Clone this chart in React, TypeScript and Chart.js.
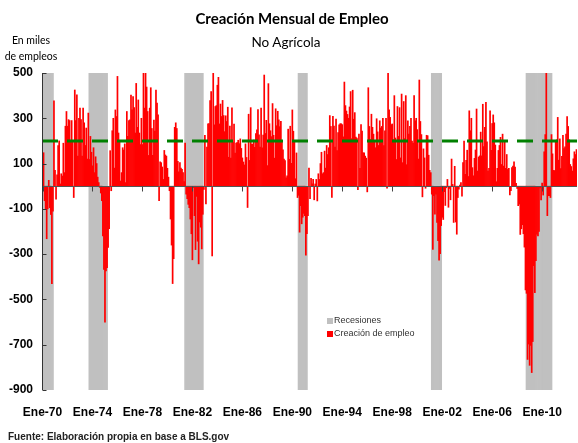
import React, { useEffect, useRef } from "react";
import { Chart, registerables } from "chart.js";
Chart.register(...registerables);

// ---- Data (thousands of jobs, monthly change, non-farm payrolls) ----
const MONTHS = ["Ene", "Feb", "Mar", "Abr", "May", "Jun", "Jul", "Ago", "Sep", "Oct", "Nov", "Dic"];
const FIRST_YEAR = 1970;

const y1970 = [125, 148, -64, -100, -232, -100, 26, -95, -125, -430, -110, 377];
const y1971 = [70, -57, 50, 180, 200, 10, 55, 45, 190, 60, 265, 330];
const y1972 = [265, 294, 290, 200, 290, 200, -50, 425, 290, 404, 133, 300];
const y1973 = [345, 294, 133, 345, 280, 180, 257, 120, 323, 118, 220, 150];
const y1974 = [90, 170, 60, 130, 100, 40, 16, -5, -30, -64, -220, -367];
const y1975 = [-600, -374, -360, -270, -188, 157, -20, 245, 300, 80, 337, 308];
const y1976 = [485, 235, 200, 23, 60, 170, 160, 187, 16, 330, 220, 290];
const y1977 = [293, 403, 337, 396, 347, 235, 454, 260, 381, 235, 184, 300];
const y1978 = [184, 510, 345, 520, 438, 330, 136, 345, 435, 255, 136, 292];
const y1979 = [243, 425, 367, 315, -64, 108, 104, 85, 30, 158, 138, 133];
const y1980 = [79, 40, -20, -145, -260, -430, -320, 260, 280, 255, 110, 64];
const y1981 = [104, 80, 75, 60, 20, 190, -35, -55, -80, -95, -145, -210];
const y1982 = [-325, -6, -130, -280, -45, -243, -343, -158, -181, -277, -124, -14];
const y1983 = [225, -78, 173, 276, 277, 378, 418, -308, 1114, 271, 352, 356];
const y1984 = [446, 481, 275, 363, 308, 379, 312, 241, 311, 286, 349, 128];
const y1985 = [266, 124, 346, 195, 274, 146, 190, 193, 203, 188, 209, 167];
const y1986 = [125, 107, 94, 187, 127, -94, 318, 114, 347, 186, 186, 204];
const y1987 = [172, 232, 249, 338, 227, 173, 345, 170, 226, 491, 233, 291];
const y1988 = [91, 453, 276, 245, 219, 365, 225, 124, 342, 267, 331, 293];
const y1989 = [263, 287, 196, 161, 120, 113, 37, 46, 252, 119, 265, 101];
const y1990 = [337, 243, 200, 33, 147, -50, -40, -203, -86, -166, -137, -120];
const y1991 = [-130, -305, -210, -130, 80, -55, 35, 10, 30, -60, 10, 30];
const y1992 = [-65, 55, 30, 100, 150, 55, 60, 155, 80, 180, 140, 170];
const y1993 = [312, 264, -49, 309, 266, 173, 297, 157, 237, 271, 276, 276];
const y1994 = [272, 218, 460, 356, 332, 317, 300, 350, 418, 210, 424, 296];
const y1995 = [325, 217, 213, -15, 230, 79, 272, 243, 147, 147, 133, 124];
const y1996 = [-25, 435, 264, 206, 318, 260, 230, 200, 170, 298, 240, 180];
const y1997 = [289, 257, 264, 300, 180, 245, 300, -9, 505, 337, 304, 272];
const y1998 = [275, 206, 400, 213, 118, 352, 220, 347, 125, 407, 104, 374];
const y1999 = [210, 400, 95, 289, 230, 264, 300, 199, 191, 400, 289, 300];
const y2000 = [250, 120, 469, 286, 228, -47, 165, 125, -9, 225, 223, 137];
const y2001 = [70, 60, -35, -279, -42, -123, -35, -160, -240, -327, -298, -174];
const y2002 = [-137, -147, -24, -85, -7, 30, -93, -10, -60, 120, 8, -160];
const y2003 = [88, -158, -212, -50, -13, 5, 16, -44, 104, 199, 53, 114];
const y2004 = [159, 43, 333, 245, 300, 82, 46, 123, 160, 341, 67, 129];
const y2005 = [134, 239, 134, 362, 175, 260, 371, 196, 67, 79, 333, 159];
const y2006 = [277, 315, 280, 182, 20, 79, 158, 180, 216, 96, 230, 89];
const y2007 = [201, 79, 140, 74, 79, -38, -20, 82, 89, 108, 85, 13];
const y2008 = [-10, -86, -79, -213, -188, -170, -210, -269, -458, -473, -765, -697];
const y2009 = [-791, -703, -823, -686, -351, -470, -329, -212, -219, -200, -7, -60];
const y2010 = [14, -39, 152, 228, 516, -130, -42, -42, -50, 228, 143, 70];
const y2011 = [69, 196, 205, 304, 115, 209, 78, 132, 225, 166, 174, 230];
const y2012 = [308, 264, 205, 96, 87, 67, 121, 152, 140, 162];

const JOBS = [
  ...y1970, ...y1971, ...y1972, ...y1973, ...y1974, ...y1975, ...y1976, ...y1977,
  ...y1978, ...y1979, ...y1980, ...y1981, ...y1982, ...y1983, ...y1984, ...y1985,
  ...y1986, ...y1987, ...y1988, ...y1989, ...y1990, ...y1991, ...y1992, ...y1993,
  ...y1994, ...y1995, ...y1996, ...y1997, ...y1998, ...y1999, ...y2000, ...y2001,
  ...y2002, ...y2003, ...y2004, ...y2005, ...y2006, ...y2007, ...y2008, ...y2009,
  ...y2010, ...y2011, ...y2012,
];

// Recession shading periods (as drawn in the reference)
const RECESSION_START = ["1970-01", "1973-10", "1981-06", "1990-07", "2001-03", "2008-10"];
const RECESSION_END = ["1970-11", "1975-03", "1982-11", "1991-03", "2001-12", "2010-10"];

const Y_MIN = -900;
const Y_MAX = 500;
const Y_STEP = 200;
const TARGET = 200;
const LABEL_EVERY = 48;

const monthKeys = JOBS.map((_, i) => {
  const yr = FIRST_YEAR + Math.floor(i / 12);
  return `${yr}-${String((i % 12) + 1).padStart(2, "0")}`;
});
const categories = JOBS.map((_, i) => {
  const yr = FIRST_YEAR + Math.floor(i / 12);
  return `${MONTHS[i % 12]}-${String(yr % 100).padStart(2, "0")}`;
});
const recessionBars = monthKeys.map((k) =>
  RECESSION_START.some((s, j) => k >= s && k <= RECESSION_END[j]) ? [Y_MIN, Y_MAX] : null
);

const overlayPlugin = {
  id: "overlayLines",
  afterDatasetsDraw(chart: any) {
    const { ctx, chartArea, scales } = chart;
    const x = scales.x;
    const y = scales.y;
    ctx.save();
    // zero line
    const y0 = Math.round(y.getPixelForValue(0)) + 0.5;
    ctx.strokeStyle = "#555555";
    ctx.lineWidth = 1;
    ctx.setLineDash([]);
    ctx.beginPath();
    ctx.moveTo(chartArea.left, y0);
    ctx.lineTo(chartArea.right, y0);
    ctx.stroke();
    // x ticks on zero line
    ctx.strokeStyle = "#444444";
    for (let i = 0; i < categories.length; i += LABEL_EVERY) {
      const px = Math.round(x.getPixelForValue(i)) + 0.5;
      ctx.beginPath();
      ctx.moveTo(px, y0);
      ctx.lineTo(px, y0 + 5);
      ctx.stroke();
    }
    // target dashed line
    const yt = y.getPixelForValue(TARGET);
    ctx.strokeStyle = "#008000";
    ctx.lineWidth = 3;
    ctx.setLineDash([16, 9]);
    ctx.beginPath();
    ctx.moveTo(chartArea.left, yt);
    ctx.lineTo(chartArea.right, yt);
    ctx.stroke();
    // y axis line and inner ticks
    ctx.setLineDash([]);
    ctx.lineWidth = 1;
    ctx.strokeStyle = "#333333";
    const xl = Math.round(chartArea.left) + 0.5;
    ctx.beginPath();
    ctx.moveTo(xl, chartArea.top);
    ctx.lineTo(xl, chartArea.bottom);
    ctx.stroke();
    y.ticks.forEach((t: any) => {
      const py = Math.round(y.getPixelForValue(t.value)) + 0.5;
      ctx.beginPath();
      ctx.moveTo(xl, py);
      ctx.lineTo(xl + 4, py);
      ctx.stroke();
    });
    ctx.restore();
  },
};

export default function App() {
  const ref = useRef<HTMLCanvasElement>(null);
  useEffect(() => {
    const chart = new Chart(ref.current as HTMLCanvasElement, {
      type: "bar",
      data: {
        labels: categories,
        datasets: [
          {
            label: "Creación de empleo",
            data: JOBS,
            backgroundColor: "#ff0000",
            borderWidth: 0,
            barPercentage: 1,
            categoryPercentage: 1,
            grouped: false,
            order: 0,
          } as any,
          {
            label: "Recesiones",
            data: recessionBars as any,
            backgroundColor: "#c0c0c0",
            borderWidth: 0,
            barPercentage: 1,
            categoryPercentage: 1,
            grouped: false,
            order: 1,
          } as any,
        ],
      },
      options: {
        responsive: false,
        animation: false,
        devicePixelRatio: 1,
        layout: { padding: { top: 73, right: 1, bottom: 23, left: 0 } },
        plugins: { legend: { display: false }, tooltip: { enabled: false }, title: { display: false } },
        scales: {
          x: {
            type: "category",
            offset: true,
            grid: { display: false, drawTicks: false },
            border: { display: false },
            ticks: {
              autoSkip: false,
              maxRotation: 0,
              minRotation: 0,
              padding: 15,
              color: "#000000",
              font: { family: "'Liberation Sans', Arial, sans-serif", size: 12, weight: "bold" },
              callback: (_v: any, i: number) => (i % LABEL_EVERY === 0 ? categories[i] : null),
            },
            afterFit: (s: any) => {
              s.height = 30;
            },
          },
          y: {
            min: Y_MIN,
            max: Y_MAX,
            grid: { display: false, drawTicks: false },
            border: { display: false },
            ticks: {
              stepSize: Y_STEP,
              padding: 9,
              color: "#000000",
              font: { family: "'Liberation Sans', Arial, sans-serif", size: 12, weight: "bold" },
            },
            afterFit: (s: any) => {
              s.width = 42;
            },
          },
        },
      },
      plugins: [overlayPlugin],
    } as any);
    return () => chart.destroy();
  }, []);

  return (
    <div style={{ position: "fixed", left: 0, top: 0, width: 578, height: 443, background: "#ffffff", overflow: "hidden" }}>
      <canvas ref={ref} width={578} height={443} style={{ position: "absolute", left: 0, top: 0, width: 578, height: 443 }} />
      <div style={{ position: "absolute", left: 0, width: 584, top: 8, textAlign: "center", font: "bold 15px Lato, 'Open Sans', sans-serif", lineHeight: "20px", color: "#000" }}>
        Creación Mensual de Empleo
      </div>
      <div style={{ position: "absolute", left: 0, width: 572, top: 32, textAlign: "center", font: "13.5px Lato, 'Open Sans', sans-serif", lineHeight: "20px", color: "#000" }}>
        No Agrícola
      </div>
      <div style={{ position: "absolute", left: 0, width: 62, top: 32, textAlign: "center", font: "10.5px Lato, 'Open Sans', sans-serif", lineHeight: "16px", color: "#000" }}>
        En miles
        <br />
        de empleos
      </div>
      <div style={{ position: "absolute", left: 327, top: 314, font: "9px 'Liberation Sans', Arial, sans-serif", lineHeight: "13px", color: "#333" }}>
        <div style={{ display: "flex", alignItems: "center" }}>
          <span style={{ display: "inline-block", width: 6, height: 6, background: "#c0c0c0", marginRight: 1 }} />
          <span>Recesiones</span>
        </div>
        <div style={{ display: "flex", alignItems: "center" }}>
          <span style={{ display: "inline-block", width: 6, height: 6, background: "#ff0000", marginRight: 1 }} />
          <span>Creación de empleo</span>
        </div>
      </div>
      <div style={{ position: "absolute", left: 8, top: 431, font: "bold 10px 'Liberation Sans', Arial, sans-serif", lineHeight: "12px", color: "#222" }}>
        Fuente: Elaboración propia en base a BLS.gov
      </div>
    </div>
  );
}
